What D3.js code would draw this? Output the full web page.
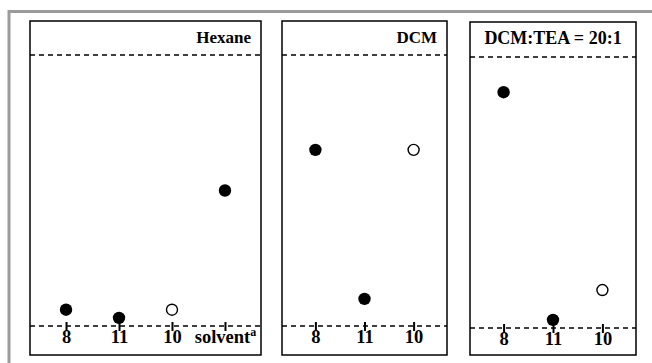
<!DOCTYPE html>
<html>
<head>
<meta charset="utf-8">
<script src="https://cdn.jsdelivr.net/npm/d3@7"></script>
<style>
  html, body { margin: 0; padding: 0; background: #fff; }
  svg { display: block; }
  svg text { font-family: 'Liberation Serif', 'Times New Roman', Times, 'DejaVu Serif', serif; font-weight: bold; }
</style>
</head>
<body>
<div id="chart"></div>
<script>
'use strict';

// panel titles
const panelTitles = ['Hexane', 'DCM', 'DCM:TEA = 20:1'];

// spots on each plate (Rf, 0 = baseline, 1 = solvent front)
const hexaneLanes = ['8', '11', '10', 'solvent'];
const hexaneRf = [0.06, 0.03, 0.06, 0.50];

const dcmLanes = ['8', '11', '10'];
const dcmRf = [0.65, 0.10, 0.65];

const teaLanes = ['8', '11', '10'];
const teaRf = [0.87, 0.03, 0.14];

// lane drawn with a hollow marker
const openLane = '10';

const width = 652, height = 363;
const serif = "'Liberation Serif', 'Times New Roman', Times, 'DejaVu Serif', serif";

const svg = d3.select('#chart').append('svg')
  .attr('width', width)
  .attr('height', height);

// grey outer frame
svg.append('path')
  .attr('d', `M9,${height + 5} L9,11.5 L${width + 5},11.5`)
  .attr('fill', 'none')
  .attr('stroke', '#9b9b9b')
  .attr('stroke-width', 3);

const panels = [
  {title: panelTitles[0], lanes: hexaneLanes, rf: hexaneRf, x0: 30, x1: 261, top: 21, front: 55, base: 326, anchor: 'end'},
  {title: panelTitles[1], lanes: dcmLanes, rf: dcmRf, x0: 282, x1: 447, top: 21, front: 55, base: 326, anchor: 'end'},
  {title: panelTitles[2], lanes: teaLanes, rf: teaRf, x0: 470, x1: 636, top: 22, front: 57, base: 328, anchor: 'middle'}
];
const bottom = 355;

panels.forEach(p => {
  const g = svg.append('g');

  const x = d3.scalePoint()
    .domain(p.lanes)
    .range([p.x0, p.x1])
    .padding(0.68);

  const y = d3.scaleLinear()
    .domain([0, 1])
    .range([p.base, p.front]);

  // plate outline
  g.append('rect')
    .attr('x', p.x0)
    .attr('y', p.top)
    .attr('width', p.x1 - p.x0)
    .attr('height', bottom - p.top)
    .attr('fill', 'none')
    .attr('stroke', '#000')
    .attr('stroke-width', 1.5);

  // solvent front and baseline
  g.selectAll('line.dash')
    .data([1, 0])
    .join('line')
    .attr('class', 'dash')
    .attr('x1', p.x0)
    .attr('x2', p.x1)
    .attr('y1', d => y(d))
    .attr('y2', d => y(d))
    .attr('stroke', '#000')
    .attr('stroke-width', 1.3)
    .attr('stroke-dasharray', '5,4');

  // title
  g.append('text')
    .attr('x', p.anchor === 'end' ? p.x1 - 10 : (p.x0 + p.x1) / 2)
    .attr('y', p.top + 22)
    .attr('text-anchor', p.anchor)
    .style('font-family', serif)
    .style('font-weight', 'bold')
    .style('font-size', p.anchor === 'end' ? '17px' : '18px')
    .text(p.title);

  // lane ticks and labels via axis
  const axis = d3.axisBottom(x).tickSize(0).tickPadding(0);
  const ax = g.append('g')
    .attr('transform', `translate(0,${p.base})`)
    .call(axis)
    .attr('font-family', serif)
    .attr('font-size', 18);
  ax.select('.domain').remove();
  ax.selectAll('.tick').append('line')
    .attr('y1', -4)
    .attr('y2', 5)
    .attr('stroke', '#000')
    .attr('stroke-width', 2);
  ax.selectAll('.tick text')
    .attr('y', 17)
    .attr('dy', 0)
    .attr('fill', '#000')
    .style('font-family', serif)
    .style('font-weight', 'bold')
    .style('font-size', '18.5px')
    .each(function(d) {
      const t = d3.select(this);
      if (d === 'solvent') {
        t.text('solvent');
        t.append('tspan')
          .attr('dy', -7)
          .style('font-size', '12px')
          .text('a');
      }
    });

  // spots
  g.selectAll('circle.spot')
    .data(p.lanes.map((l, i) => ({lane: l, rf: p.rf[i]})))
    .join('circle')
    .attr('class', 'spot')
    .attr('cx', d => x(d.lane))
    .attr('cy', d => y(d.rf))
    .attr('r', d => d.lane === openLane ? 5.5 : 6.2)
    .attr('fill', d => d.lane === openLane ? '#fff' : '#000')
    .attr('stroke', '#000')
    .attr('stroke-width', d => d.lane === openLane ? 1.4 : 0);
});
</script>
</body>
</html>
